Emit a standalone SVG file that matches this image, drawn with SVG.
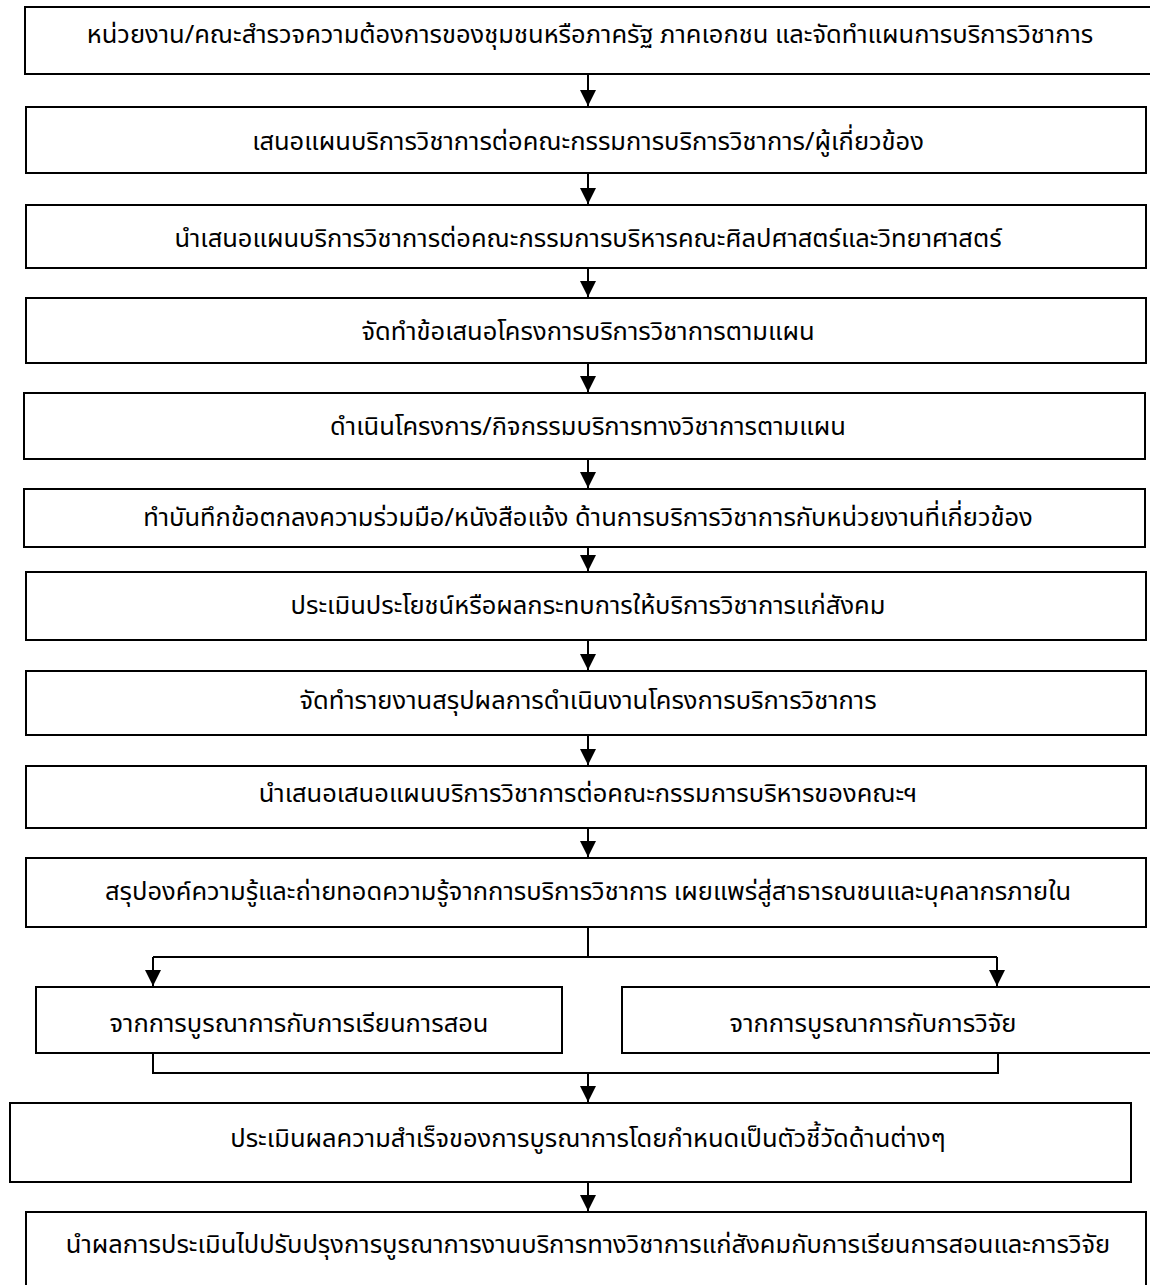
<svg xmlns="http://www.w3.org/2000/svg" width="1150" height="1285" viewBox="0 0 1150 1285">
<style>
.box{fill:#fff;stroke:#000;stroke-width:2}
.t{font-family:"Noto Sans","Noto Sans Thai","DejaVu Sans",sans-serif;font-size:25.5px;fill:#000;text-anchor:middle}
.c{fill:none;stroke:#000;stroke-width:2}
</style>
<defs>
<marker id="ah" markerUnits="userSpaceOnUse" markerWidth="16" markerHeight="16" refX="16" refY="8" orient="auto">
<path d="M0,0 L16,8 L0,16 z" fill="#000"/>
</marker>
</defs>
<rect width="1150" height="1285" fill="#fff"/>
<g id="connectors">
<line class="c" x1="588" y1="74" x2="588" y2="106" marker-end="url(#ah)"/>
<line class="c" x1="588" y1="173" x2="588" y2="204" marker-end="url(#ah)"/>
<line class="c" x1="588" y1="268" x2="588" y2="297" marker-end="url(#ah)"/>
<line class="c" x1="588" y1="363" x2="588" y2="392" marker-end="url(#ah)"/>
<line class="c" x1="588" y1="459" x2="588" y2="488" marker-end="url(#ah)"/>
<line class="c" x1="588" y1="547" x2="588" y2="571" marker-end="url(#ah)"/>
<line class="c" x1="588" y1="640" x2="588" y2="670" marker-end="url(#ah)"/>
<line class="c" x1="588" y1="735" x2="588" y2="765" marker-end="url(#ah)"/>
<line class="c" x1="588" y1="828" x2="588" y2="857" marker-end="url(#ah)"/>
<line class="c" x1="588" y1="927" x2="588" y2="957"/>
<polyline class="c" points="153,957 997,957"/>
<line class="c" x1="153" y1="957" x2="153" y2="986" marker-end="url(#ah)"/>
<line class="c" x1="997" y1="957" x2="997" y2="986" marker-end="url(#ah)"/>
<polyline class="c" points="153,1053 153,1073 998,1073 998,1053"/>
<line class="c" x1="588" y1="1073" x2="588" y2="1102" marker-end="url(#ah)"/>
<line class="c" x1="588" y1="1182" x2="588" y2="1211" marker-end="url(#ah)"/>
</g>
<g id="n1"><rect class="box" x="25" y="7" width="1140" height="67"/><text class="t" x="590" y="43">หน่วยงาน/คณะสำรวจความต้องการของชุมชนหรือภาครัฐ ภาคเอกชน และจัดทำแผนการบริการวิชาการ</text></g>
<g id="n2"><rect class="box" x="26" y="107" width="1120" height="66"/><text class="t" x="588" y="150">เสนอแผนบริการวิชาการต่อคณะกรรมการบริการวิชาการ/ผู้เกี่ยวข้อง</text></g>
<g id="n3"><rect class="box" x="26" y="205" width="1120" height="63"/><text class="t" x="588" y="247">นำเสนอแผนบริการวิชาการต่อคณะกรรมการบริหารคณะศิลปศาสตร์และวิทยาศาสตร์</text></g>
<g id="n4"><rect class="box" x="26" y="298" width="1120" height="65"/><text class="t" x="588" y="340">จัดทำข้อเสนอโครงการบริการวิชาการตามแผน</text></g>
<g id="n5"><rect class="box" x="24" y="393" width="1121" height="66"/><text class="t" x="588" y="435">ดำเนินโครงการ/กิจกรรมบริการทางวิชาการตามแผน</text></g>
<g id="n6"><rect class="box" x="24" y="489" width="1121" height="58"/><text class="t" x="588" y="526">ทำบันทึกข้อตกลงความร่วมมือ/หนังสือแจ้ง ด้านการบริการวิชาการกับหน่วยงานที่เกี่ยวข้อง</text></g>
<g id="n7"><rect class="box" x="26" y="572" width="1120" height="68"/><text class="t" x="588" y="614">ประเมินประโยชน์หรือผลกระทบการให้บริการวิชาการแก่สังคม</text></g>
<g id="n8"><rect class="box" x="26" y="671" width="1120" height="64"/><text class="t" x="588" y="709">จัดทำรายงานสรุปผลการดำเนินงานโครงการบริการวิชาการ</text></g>
<g id="n9"><rect class="box" x="26" y="766" width="1120" height="62"/><text class="t" x="588" y="802">นำเสนอเสนอแผนบริการวิชาการต่อคณะกรรมการบริหารของคณะฯ</text></g>
<g id="n10"><rect class="box" x="26" y="858" width="1120" height="69"/><text class="t" x="588" y="900">สรุปองค์ความรู้และถ่ายทอดความรู้จากการบริการวิชาการ เผยแพร่สู่สาธารณชนและบุคลากรภายใน</text></g>
<g id="n11"><rect class="box" x="36" y="987" width="526" height="66"/><text class="t" x="299" y="1032">จากการบูรณาการกับการเรียนการสอน</text></g>
<g id="n12"><rect class="box" x="622" y="987" width="540" height="66"/><text class="t" x="873" y="1032">จากการบูรณาการกับการวิจัย</text></g>
<g id="n13"><rect class="box" x="10" y="1103" width="1121" height="79"/><text class="t" x="588" y="1147">ประเมินผลความสำเร็จของการบูรณาการโดยกำหนดเป็นตัวชี้วัดด้านต่างๆ</text></g>
<g id="n14"><rect class="box" x="26" y="1212" width="1120" height="90"/><text class="t" x="588" y="1253">นำผลการประเมินไปปรับปรุงการบูรณาการงานบริการทางวิชาการแก่สังคมกับการเรียนการสอนและการวิจัย</text></g>
</svg>
